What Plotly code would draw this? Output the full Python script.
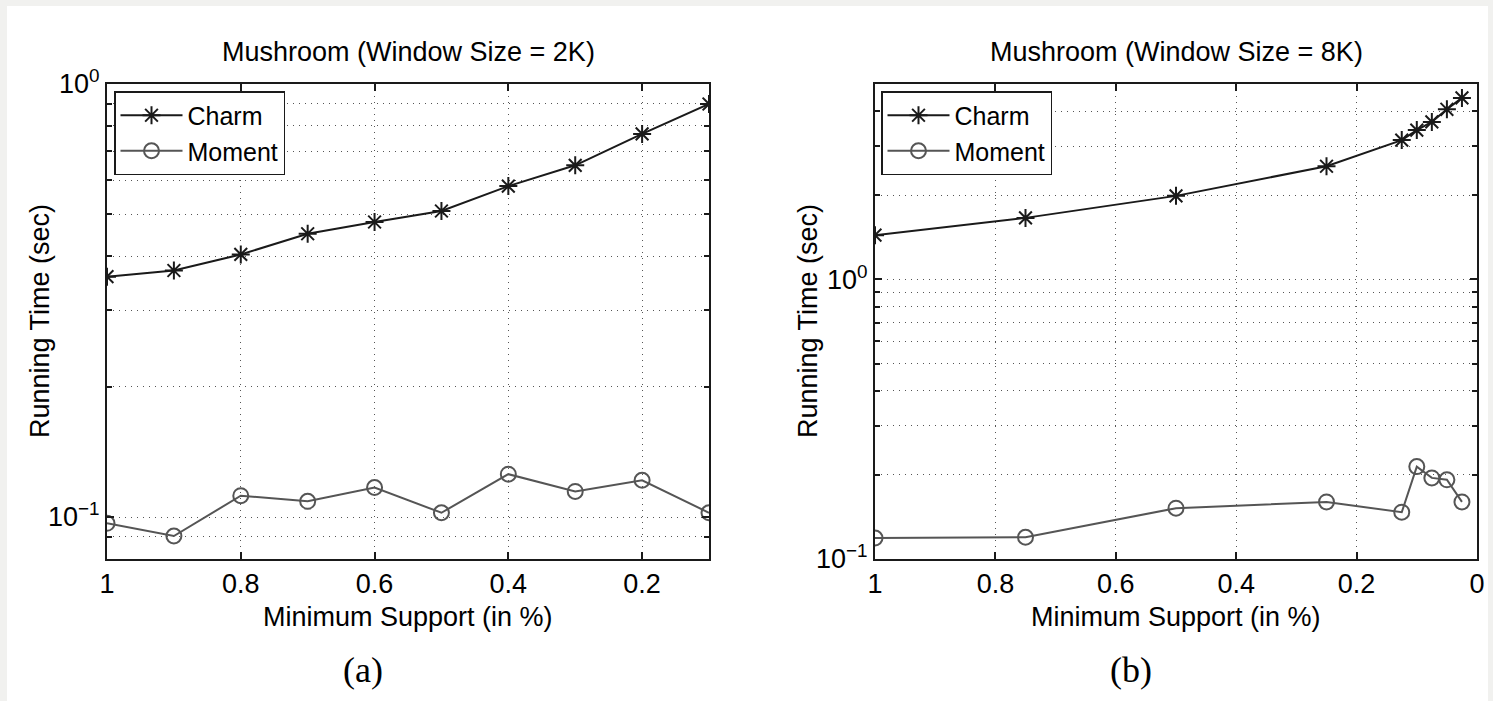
import plotly.graph_objects as go
import math

# ---------------- data ----------------
support_a = [1.0, 0.9, 0.8, 0.7, 0.6, 0.5, 0.4, 0.3, 0.2, 0.1]
charm_a = [0.359, 0.371, 0.404, 0.451, 0.480, 0.509, 0.581, 0.649, 0.767, 0.899]
moment_a = [0.0967, 0.0904, 0.112, 0.1087, 0.117, 0.1023, 0.1256, 0.1146, 0.1216, 0.1023]

support_b = [1.0, 0.75, 0.5, 0.25, 0.125, 0.1, 0.075, 0.05, 0.025]
charm_b = [1.44, 1.66, 1.99, 2.54, 3.15, 3.42, 3.66, 4.06, 4.46]
moment_b = [0.1189, 0.1196, 0.152, 0.160, 0.147, 0.214, 0.195, 0.192, 0.160]

xticks_a = [1, 0.8, 0.6, 0.4, 0.2]
xtick_text_a = ["1", "0.8", "0.6", "0.4", "0.2"]
xticks_b = [1, 0.8, 0.6, 0.4, 0.2, 0]
xtick_text_b = ["1", "0.8", "0.6", "0.4", "0.2", "0"]
yticks = [0.1, 1]
ytick_text = ["10<sup>\u22121</sup>", "10<sup>0</sup>"]
minor_a = [0.09, 0.2, 0.3, 0.4, 0.5, 0.6, 0.7, 0.8, 0.9]
minor_b = [0.2, 0.3, 0.4, 0.5, 0.6, 0.7, 0.8, 0.9, 2, 3, 4]

titles = ["Mushroom (Window Size = 2K)", "Mushroom (Window Size = 8K)"]
xlabel = "Minimum Support (in %)"
ylabel = "Running Time (sec)"
panel_labels = ["(a)", "(b)"]

# ---------------- layout geometry ----------------
W, H = 1493, 701
FONT = "Liberation Sans, Arial, Helvetica, sans-serif"
FS = 27
BLACK = "#1a1a1a"
GRAY = "#555555"
GRIDC = "#555555"
DOTS = "1px,5px"

def px_x(p):
    return p / W

def px_y(p):
    return 1 - p / H

fig = go.Figure()

charm_style = dict(color=BLACK, width=2)
moment_style = dict(color=GRAY, width=2)

def charm_marker():
    return dict(symbol="asterisk-open", size=15, color=BLACK, line=dict(color=BLACK, width=2))

def moment_marker():
    return dict(symbol="circle-open", size=15, color=GRAY, line=dict(color=GRAY, width=2))

fig.add_trace(go.Scatter(x=support_a, y=charm_a, mode="lines+markers", name="Charm",
                         line=charm_style, marker=charm_marker(),
                         xaxis="x", yaxis="y", legend="legend"))
fig.add_trace(go.Scatter(x=support_a, y=moment_a, mode="lines+markers", name="Moment",
                         line=moment_style, marker=moment_marker(),
                         xaxis="x", yaxis="y", legend="legend"))
fig.add_trace(go.Scatter(x=support_b, y=charm_b, mode="lines+markers", name="Charm",
                         line=charm_style, marker=charm_marker(),
                         xaxis="x2", yaxis="y2", legend="legend2"))
fig.add_trace(go.Scatter(x=support_b, y=moment_b, mode="lines+markers", name="Moment",
                         line=moment_style, marker=moment_marker(),
                         xaxis="x2", yaxis="y2", legend="legend2"))

axis_common = dict(showline=True, linecolor=BLACK, linewidth=2, mirror="ticks",
                   ticks="inside", ticklen=7, tickwidth=1.5, tickcolor=BLACK,
                   tickfont=dict(family=FONT, size=FS, color="black"),
                   zeroline=False, showgrid=True, gridcolor=GRIDC, gridwidth=1,
                   griddash=DOTS, automargin=False)

def minor(vals):
    return dict(tickmode="array", tickvals=vals, ticks="inside", ticklen=5,
                tickcolor=BLACK, showgrid=True, gridcolor=GRIDC,
                griddash=DOTS, gridwidth=1)

plot_top, plot_bot = 84, 559
dom_y = [px_y(plot_bot), px_y(plot_top)]

legend_common = dict(xanchor="left", yanchor="top", bgcolor="white",
                     bordercolor=BLACK, borderwidth=1.5,
                     font=dict(family=FONT, size=25, color="black"),
                     itemwidth=62, tracegroupgap=0)

fig.update_layout(
    width=W, height=H, autosize=False,
    margin=dict(l=0, r=0, t=0, b=0, pad=0, autoexpand=False),
    paper_bgcolor="#f1f1ef", plot_bgcolor="white",
    showlegend=True,
    xaxis=dict(domain=[px_x(107), px_x(709)], range=[1, 0.1],
               tickmode="array", tickvals=xticks_a, ticktext=xtick_text_a,
               anchor="y", **axis_common),
    yaxis=dict(domain=dom_y, type="log", range=[math.log10(0.08), 0],
               tickmode="array", tickvals=yticks, ticktext=ytick_text,
               anchor="x", minor=minor(minor_a), **axis_common),
    xaxis2=dict(domain=[px_x(875), px_x(1477)], range=[1, 0],
                tickmode="array", tickvals=xticks_b, ticktext=xtick_text_b,
                anchor="y2", **axis_common),
    yaxis2=dict(domain=dom_y, type="log", range=[-1, math.log10(5)],
                tickmode="array", tickvals=yticks, ticktext=ytick_text,
                anchor="x2", minor=minor(minor_b), **axis_common),
    legend=dict(x=px_x(114), y=px_y(91), **legend_common),
    legend2=dict(x=px_x(881), y=px_y(91), **legend_common),
)

# white page area over the gray border
fig.add_shape(type="rect", xref="paper", yref="paper",
              x0=px_x(7), x1=px_x(1488), y0=0, y1=px_y(6),
              fillcolor="white", line=dict(width=0), layer="below")

annots = []
centers = [408, 1176]
label_centers = [363, 1131]
for i, cx in enumerate(centers):
    annots.append(dict(text=titles[i], x=px_x(cx), y=px_y(52), xref="paper", yref="paper",
                       showarrow=False, xanchor="center", yanchor="middle",
                       font=dict(family=FONT, size=FS, color="black")))
    annots.append(dict(text=xlabel, x=px_x(cx), y=px_y(617), xref="paper", yref="paper",
                       showarrow=False, xanchor="center", yanchor="middle",
                       font=dict(family=FONT, size=FS, color="black")))
    annots.append(dict(text=panel_labels[i], x=px_x(label_centers[i]), y=px_y(670),
                       xref="paper", yref="paper",
                       showarrow=False, xanchor="center", yanchor="middle",
                       font=dict(family="Liberation Serif, DejaVu Serif, serif", size=36,
                                 color="black")))
for yx in [40, 808]:
    annots.append(dict(text=ylabel, x=px_x(yx), y=px_y(321), xref="paper", yref="paper",
                       showarrow=False, xanchor="center", yanchor="middle", textangle=-90,
                       font=dict(family=FONT, size=FS, color="black")))
fig.update_layout(annotations=annots)

fig.write_html("out.html")
